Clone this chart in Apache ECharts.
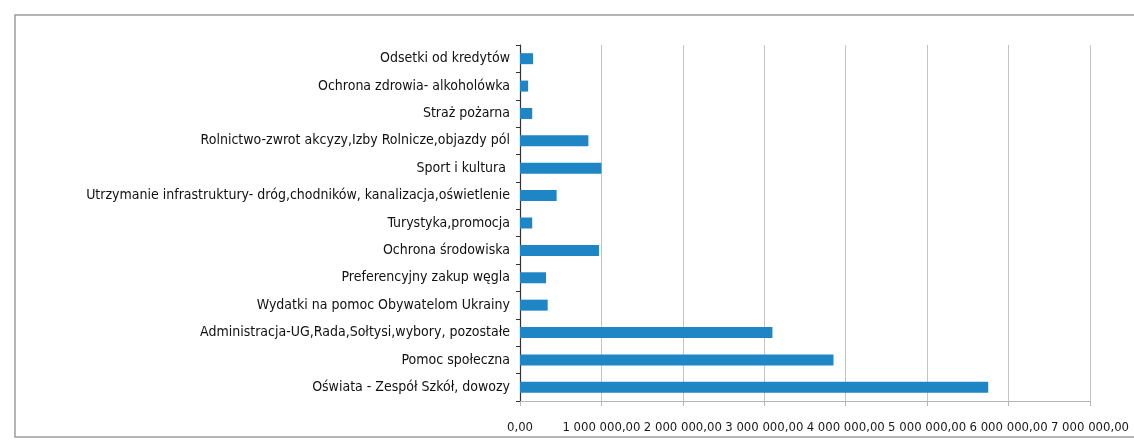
<!DOCTYPE html>
<html>
<head>
<meta charset="utf-8">
<script src="https://cdn.jsdelivr.net/npm/echarts@6/dist/echarts.min.js"></script>
<style>
html,body{margin:0;padding:0;background:#fff;}
#chart{width:1134px;height:441px;}
</style>
</head>
<body>
<div id="chart"></div>
<script>
// Categories listed bottom-to-top (ECharts category y-axis order)
const categories = [
  "Oświata - Zespół Szkół, dowozy",
  "Pomoc społeczna",
  "Administracja-UG,Rada,Sołtysi,wybory, pozostałe",
  "Wydatki na pomoc Obywatelom Ukrainy",
  "Preferencyjny zakup węgla",
  "Ochrona środowiska",
  "Turystyka,promocja",
  "Utrzymanie infrastruktury- dróg,chodników, kanalizacja,oświetlenie",
  "Sport i kultura ",
  "Rolnictwo-zwrot akcyzy,Izby Rolnicze,objazdy pól",
  "Straż pożarna",
  "Ochrona zdrowia- alkoholówka",
  "Odsetki od kredytów"
];
const values = [
  5750000, 3850000, 3100000, 340000, 320000, 970000,
  150000, 450000, 1000000, 840000, 150000, 100000, 160000
];
const xTickLabels = [
  "0,00", "1 000 000,00", "2 000 000,00", "3 000 000,00",
  "4 000 000,00", "5 000 000,00", "6 000 000,00", "7 000 000,00"
];

const FONT = '"Liberation Sans Narrow", "DejaVu Sans Condensed", "Liberation Sans", sans-serif';
const chart = echarts.init(document.getElementById('chart'), null, {renderer: 'canvas'});
chart.setOption({
  animation: false,
  backgroundColor: '#ffffff',
  graphic: [{
    type: 'rect',
    z: -1,
    shape: {x: 15, y: 15, width: 1140, height: 422},
    style: {fill: 'none', stroke: '#9c9c9c', lineWidth: 1.5}
  }],
  grid: {left: 520, right: 44, top: 45, bottom: 40, containLabel: false},
  xAxis: {
    type: 'value',
    min: 0,
    max: 7000000,
    interval: 1000000,
    axisLine: {show: true, lineStyle: {color: '#b5b5b5', width: 1}},
    axisTick: {show: true, length: 5, lineStyle: {color: '#b5b5b5'}},
    splitLine: {show: true, lineStyle: {color: '#c4c4c4', width: 1}},
    axisLabel: {
      margin: 20,
      color: '#1a1a1a',
      fontFamily: FONT,
      fontSize: 13,
      hideOverlap: false,
      showMinLabel: true,
      showMaxLabel: true,
      interval: 0,
      formatter: function (v) { return xTickLabels[Math.round(v / 1000000)]; }
    }
  },
  yAxis: {
    type: 'category',
    data: categories,
    axisLine: {show: true, lineStyle: {color: '#333333', width: 1.2}},
    axisTick: {show: true, length: 4, lineStyle: {color: '#333333'}},
    axisLabel: {
      margin: 10,
      color: '#111111',
      fontFamily: FONT,
      fontSize: 14,
      interval: 0
    },
    splitLine: {show: false}
  },
  series: [{
    type: 'bar',
    data: values,
    barWidth: 11,
    itemStyle: {color: '#1f86c6'}
  }]
});
</script>
</body>
</html>
